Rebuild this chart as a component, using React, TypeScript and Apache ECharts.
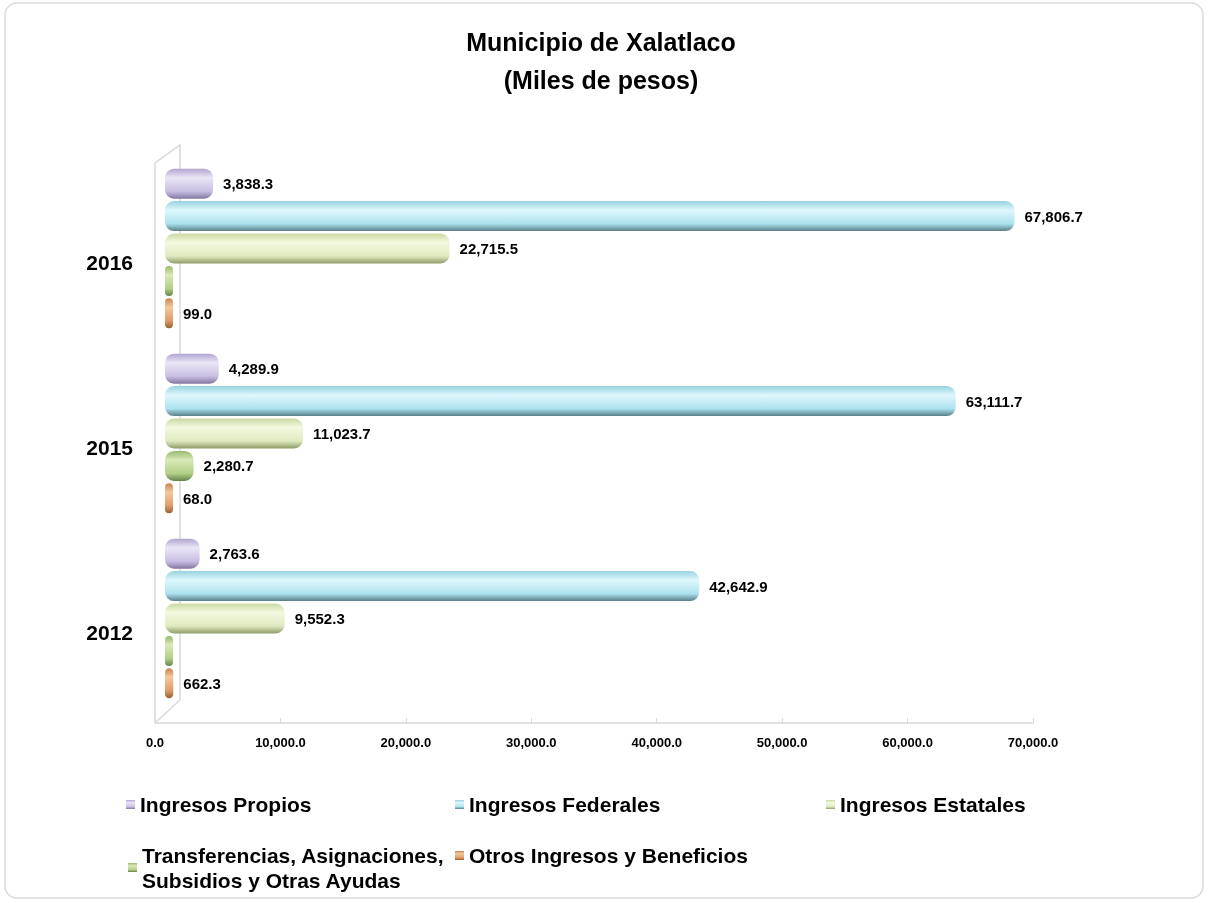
import React, { useEffect, useRef } from "react";
import * as echarts from "echarts";

const years = ["2016", "2015", "2012"];
const seriesNames = [
  "Ingresos Propios",
  "Ingresos Federales",
  "Ingresos Estatales",
  "Transferencias, Asignaciones, Subsidios y Otras Ayudas",
  "Otros Ingresos y Beneficios",
];
const propios = [3838.3, 4289.9, 2763.6];
const federales = [67806.7, 63111.7, 42642.9];
const estatales = [22715.5, 11023.7, 9552.3];
const transferencias = [0, 2280.7, 0];
const otros = [99.0, 68.0, 662.3];
const axisMin = 0;
const axisMax = 70000;
const axisInterval = 10000;

const palettes = [
  ["#b1a4d0", "#ebe6f7", "#c9bfe3", "#83779f"],
  ["#98d2e0", "#dff7fc", "#ace3ef", "#587f88"],
  ["#cadaa3", "#f3f9df", "#dfeac0", "#8d9d6a"],
  ["#98b96d", "#d9eab8", "#b3cf88", "#66844a"],
  ["#c98550", "#f4c8a0", "#dd9c66", "#95602f"],
];

const cyl = (p: string[]) => ({
  type: "linear",
  x: 0,
  y: 0,
  x2: 0,
  y2: 1,
  colorStops: [
    { offset: 0, color: p[0] },
    { offset: 0.3, color: p[1] },
    { offset: 0.75, color: p[2] },
    { offset: 1, color: p[3] },
  ],
});

const fmt = (v: number) =>
  v.toLocaleString("en-US", { minimumFractionDigits: 1, maximumFractionDigits: 1 });

export default function App() {
  const ref = useRef<HTMLDivElement>(null);
  useEffect(() => {
    if (!ref.current) return;
    const chart = echarts.init(ref.current, undefined, { renderer: "svg" });
    const data = [propios, federales, estatales, transferencias, otros];
    const font = "'Liberation Sans', Arial, sans-serif";
    const legendPos = [
      { left: 121, top: 787 },
      { left: 450, top: 787 },
      { left: 821, top: 787 },
      { left: 123, top: 825 },
      { left: 450, top: 838 },
    ];
    chart.setOption({
      animation: false,
      textStyle: { fontFamily: font },
      title: {
        text: "Municipio de Xalatlaco\n(Miles de pesos)",
        left: 596,
        top: 18,
        textAlign: "center",
        textStyle: { fontSize: 25, fontWeight: "bold", color: "#000", lineHeight: 38, fontFamily: font },
      },
      graphic: [
        {
          type: "rect",
          z: -10,
          silent: true,
          shape: { x: 5, y: 3, width: 1198, height: 895, r: 12 },
          style: { fill: "#fff", stroke: "#dcdcdc", lineWidth: 1.5 },
        },
        {
          type: "polyline",
          silent: true,
          z: 0,
          shape: { points: [[155, 723], [155, 163], [180, 145], [180, 700], [155, 723]] },
          style: { stroke: "#d9d9d9", lineWidth: 1.5, fill: "none" },
        },
      ],
      legend: seriesNames.map((n, i) => ({
        left: legendPos[i].left,
        top: legendPos[i].top,
        data: [n],
        icon: "rect",
        itemWidth: 9,
        itemHeight: 9,
        selectedMode: false,
        formatter: (name: string) =>
          name.startsWith("Transferencias") ? "Transferencias, Asignaciones,\nSubsidios y Otras Ayudas" : name,
        textStyle: {
          fontSize: 21,
          fontWeight: "bold",
          color: "#000",
          lineHeight: 25,
          fontFamily: font,
          padding: i === 3 ? [25, 0, 0, 0] : 0,
        },
      })),
      grid: [
        { left: 165, right: 166, top: 156, bottom: 192 },
        { left: 155, right: 175, top: 156, bottom: 180 },
      ],
      xAxis: [
        {
          gridIndex: 0,
          type: "value",
          min: axisMin,
          max: axisMax,
          interval: axisInterval,
          show: false,
        },
        {
          gridIndex: 1,
          type: "value",
          min: axisMin,
          max: axisMax,
          interval: axisInterval,
          axisLine: { show: true, lineStyle: { color: "#d9d9d9", width: 1.5 } },
          axisTick: { show: true, inside: true, length: 5, lineStyle: { color: "#d9d9d9" } },
          splitLine: { show: false },
          axisLabel: {
            margin: 13,
            fontSize: 13,
            fontWeight: "bold",
            color: "#000",
            fontFamily: font,
            formatter: (v: number) => fmt(v),
          },
        },
      ],
      yAxis: [
        {
          gridIndex: 0,
          type: "category",
          data: years,
          inverse: true,
          axisLine: { show: false },
          axisTick: { show: false },
          axisLabel: {
            margin: 32,
            fontSize: 21,
            fontWeight: "bold",
            color: "#000",
            fontFamily: font,
            verticalAlign: "top",
            lineHeight: 28,
          },
        },
        { gridIndex: 1, type: "value", show: false },
      ],
      series: seriesNames.map((n, i) => ({
        name: n,
        type: "bar",
        xAxisIndex: 0,
        yAxisIndex: 0,
        data: data[i],
        barWidth: 30,
        barGap: "8%",
        barMinHeight: 8,
        itemStyle: { color: cyl(palettes[i]), borderRadius: 9 },
        label: {
          show: true,
          position: "right",
          distance: 10,
          fontSize: 15,
          fontWeight: "bold",
          color: "#000",
          fontFamily: font,
          formatter: (p: any) => (p.value === 0 ? "" : fmt(p.value)),
        },
      })),
    });
    return () => chart.dispose();
  }, []);
  return <div ref={ref} style={{ position: "fixed", left: 0, top: 0, width: 1208, height: 903 }} />;
}
